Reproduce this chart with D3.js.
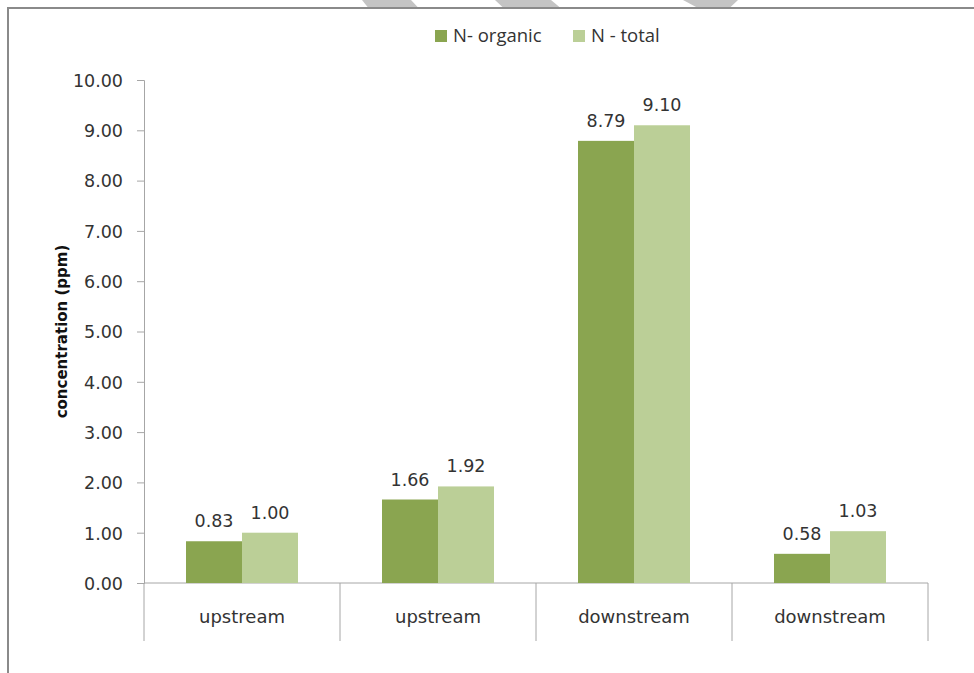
<!DOCTYPE html>
<html>
<head>
<meta charset="utf-8">
<script src="https://cdn.jsdelivr.net/npm/d3@7/dist/d3.min.js"></script>
<style>
  html, body { margin: 0; padding: 0; background: #fff; }
  svg { display: block; }
</style>
</head>
<body>
<script>
// Sampling sites and nitrogen concentrations (ppm)
const sites = ["upstream", "upstream", "downstream", "downstream"];
const seriesNames = ["N- organic", "N - total"];
const nOrganic = [0.83, 1.66, 8.79, 0.58];
const nTotal = [1.00, 1.92, 9.10, 1.03];
const yTicks = [0, 1, 2, 3, 4, 5, 6, 7, 8, 9, 10];
const yTitle = "concentration (ppm)";

const W = 974, H = 673;
const colors = ["#8aa550", "#bbcf97"];
const numFont = "'DejaVu Sans', Verdana, sans-serif";
const textFont = "'Open Sans', 'DejaVu Sans', sans-serif";

const svg = d3.select("body").append("svg")
  .attr("width", W).attr("height", H);

// faint grey shapes along the top edge
const topShapes = [
  "M362,0 L411,0 L418,7.5 L368,7.5 Z",
  "M495,0 L551,0 L560,7.5 L503,7.5 Z",
  "M683,0 L738,0 L730,7.5 L697,7.5 Z"
];
svg.selectAll("path.deco").data(topShapes).join("path")
  .attr("class", "deco").attr("d", d => d).attr("fill", "#c4c4c4");

// chart frame (left and top edges)
svg.append("path")
  .attr("d", `M8,${H} L8,8 L${W},8`)
  .attr("fill", "none").attr("stroke", "#8a8a8a").attr("stroke-width", 2);

const plot = { left: 144, right: 928, top: 80, bottom: 583 };

const x = d3.scaleBand().domain(d3.range(sites.length))
  .range([plot.left, plot.right]).paddingInner(0).paddingOuter(0);
const xInner = d3.scaleBand().domain([0, 1])
  .range([0, x.bandwidth()]).paddingInner(0).paddingOuter(42 / 56);
const y = d3.scaleLinear().domain([0, 10]).range([plot.bottom, plot.top]);

// y axis
const yAxis = svg.append("g")
  .attr("transform", `translate(${plot.left},0)`)
  .call(d3.axisLeft(y).tickValues(yTicks).tickFormat(d3.format(".2f"))
    .tickSize(7).tickPadding(14));
yAxis.select(".domain").attr("stroke", "#a6a6a6");
yAxis.selectAll(".tick line").attr("stroke", "#a6a6a6");
yAxis.selectAll(".tick text")
  .attr("font-family", numFont).attr("font-size", 17.5)
  .attr("fill", "#333").attr("dy", "0.36em");

// x baseline and category dividers
svg.append("line")
  .attr("x1", plot.left).attr("x2", plot.right)
  .attr("y1", y(0)).attr("y2", y(0))
  .attr("stroke", "#a6a6a6");
const dividers = d3.range(sites.length + 1).map(i =>
  i < sites.length ? x(i) : x(sites.length - 1) + x.bandwidth());
svg.selectAll("line.div").data(dividers).join("line")
  .attr("class", "div")
  .attr("x1", d => d).attr("x2", d => d)
  .attr("y1", y(0)).attr("y2", y(0) + 58)
  .attr("stroke", "#a6a6a6");

// category labels
svg.selectAll("text.cat").data(sites).join("text")
  .attr("class", "cat")
  .attr("x", (d, i) => x(i) + x.bandwidth() / 2)
  .attr("y", 623)
  .attr("text-anchor", "middle")
  .attr("font-family", numFont).attr("font-size", 18)
  .attr("fill", "#333")
  .text(d => d);

// bars
const rows = sites.map((s, i) => [nOrganic[i], nTotal[i]]);
const groups = svg.selectAll("g.grp").data(rows).join("g")
  .attr("class", "grp")
  .attr("transform", (d, i) => `translate(${x(i)},0)`);
groups.selectAll("rect").data(d => d).join("rect")
  .attr("x", (d, j) => xInner(j))
  .attr("width", xInner.bandwidth())
  .attr("y", d => y(d))
  .attr("height", d => y(0) - y(d))
  .attr("fill", (d, j) => colors[j]);
groups.selectAll("text").data(d => d).join("text")
  .attr("x", (d, j) => xInner(j) + xInner.bandwidth() / 2)
  .attr("y", d => y(d) - 14)
  .attr("text-anchor", "middle")
  .attr("font-family", numFont).attr("font-size", 17.5)
  .attr("fill", "#333")
  .text(d => d.toFixed(2));

// y axis title, centred on the plot height
svg.append("text")
  .attr("transform", `translate(67,${(plot.top + plot.bottom) / 2}) rotate(-90)`)
  .attr("text-anchor", "middle")
  .attr("font-family", numFont).attr("font-size", 15)
  .attr("font-weight", "bold").attr("fill", "#111")
  .text(yTitle);

// legend
const legendX = [435, 573];
const legend = svg.selectAll("g.leg").data(seriesNames).join("g")
  .attr("class", "leg")
  .attr("transform", (d, i) => `translate(${legendX[i]},30)`);
legend.append("rect").attr("width", 12).attr("height", 12)
  .attr("fill", (d, i) => colors[i]);
legend.append("text")
  .attr("x", 18).attr("y", 12)
  .attr("font-family", textFont).attr("font-size", 18.5)
  .attr("fill", "#333")
  .text(d => d);
</script>
</body>
</html>
